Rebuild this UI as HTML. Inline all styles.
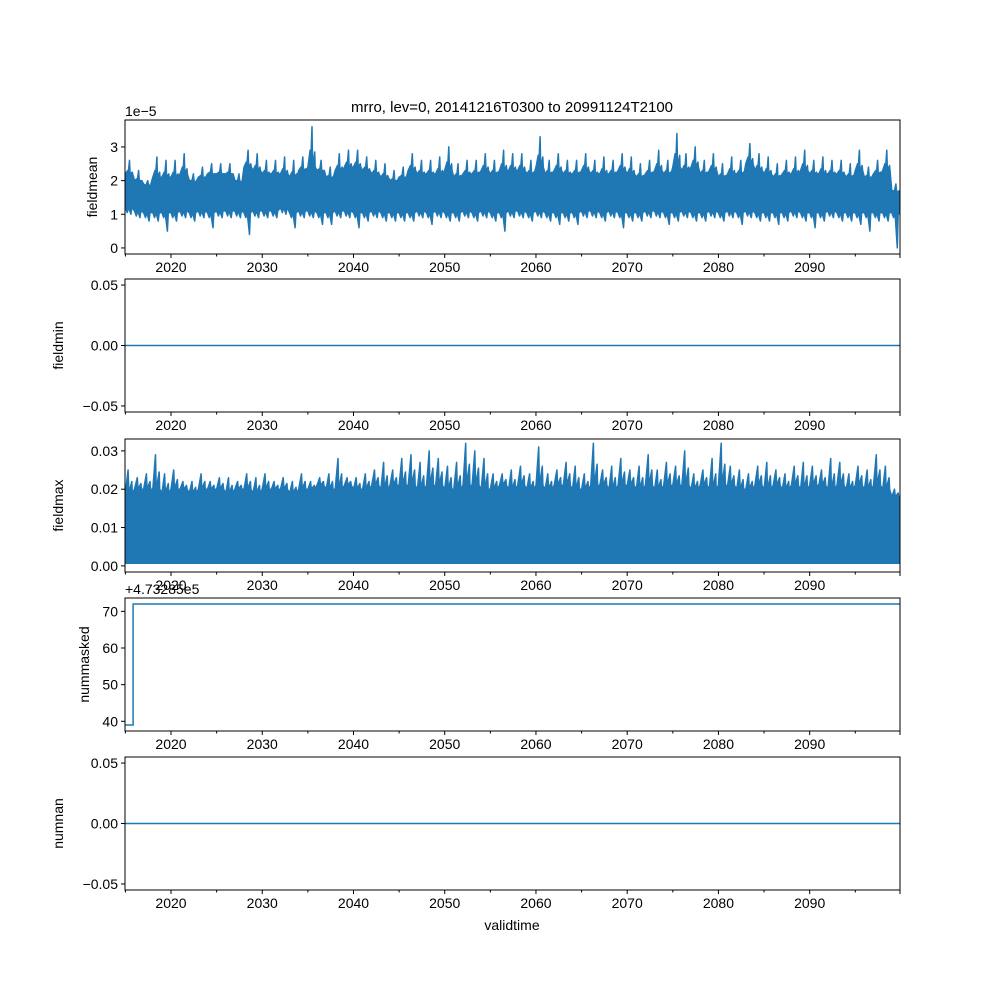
<!DOCTYPE html>
<html><head><meta charset="utf-8">
<style>
body{margin:0;background:#fff;}
svg text{font-family:"Liberation Sans","DejaVu Sans",sans-serif;fill:#000;}
</style></head>
<body>
<svg id="fig" width="1000" height="1000" viewBox="0 0 1000 1000" xmlns="http://www.w3.org/2000/svg">
<rect width="1000" height="1000" fill="#fff"/>
<text x="512" y="112" font-size="15" text-anchor="middle">mrro, lev=0, 20141216T0300 to 20991124T2100</text>
<text x="512" y="930" font-size="14" text-anchor="middle">validtime</text>
</svg>
<script>
const years = [];
for (let y = 2015; y <= 2099; y++) years.push(y);
// fieldmean (units 1e-5): yearly peak, yearly upper level, yearly low
const meanPeak = [2.6,2.3,2.0,2.7,2.6,2.6,2.8,2.2,2.4,2.5,2.5,2.5,2.2,2.9,2.8,2.6,2.6,2.7,2.6,2.7,3.6,2.6,2.4,2.8,2.9,2.9,2.7,2.6,2.5,2.3,2.4,2.8,2.6,2.6,2.7,3.0,2.5,2.6,2.6,2.8,2.6,2.9,2.8,2.8,2.6,3.3,2.6,2.8,2.6,2.6,2.8,2.6,2.7,2.6,2.8,2.7,2.5,2.6,2.9,2.6,3.4,2.8,3.0,2.6,2.8,2.5,2.7,2.6,3.1,2.8,2.7,2.5,2.6,2.7,2.9,2.6,2.7,2.6,2.6,2.5,2.9,2.4,2.6,2.9,1.9];
const meanUpper = [2.2,2.0,1.9,2.1,2.1,2.1,2.2,2.0,2.1,2.2,2.2,2.2,2.0,2.4,2.3,2.2,2.2,2.2,2.1,2.3,2.4,2.3,2.1,2.3,2.4,2.4,2.3,2.2,2.1,2.0,2.1,2.3,2.2,2.2,2.2,2.3,2.1,2.2,2.2,2.3,2.2,2.3,2.3,2.3,2.2,2.4,2.2,2.3,2.2,2.2,2.3,2.2,2.2,2.2,2.3,2.2,2.1,2.2,2.3,2.2,2.4,2.3,2.4,2.2,2.3,2.1,2.2,2.2,2.5,2.3,2.2,2.1,2.2,2.2,2.3,2.2,2.2,2.2,2.2,2.1,2.3,2.1,2.2,2.3,1.7];
const meanLow = [1.0,0.9,0.8,0.8,0.5,0.8,0.9,0.8,0.9,0.6,0.9,0.9,0.9,0.4,0.9,0.9,0.9,1.0,0.6,0.9,0.9,0.7,0.7,0.9,0.9,0.6,0.8,0.9,0.8,0.8,0.8,0.8,0.9,0.7,0.9,0.8,0.8,0.9,0.8,0.9,0.8,0.5,0.9,0.9,0.8,0.9,0.8,0.7,0.8,0.7,0.9,0.9,0.8,0.9,0.6,0.8,0.8,0.9,0.9,0.7,0.8,0.9,0.8,0.8,0.9,0.8,0.9,0.7,0.9,0.8,0.8,0.7,0.8,0.9,0.8,0.6,0.8,0.9,0.8,0.8,0.7,0.5,0.8,0.8,0.0];
// fieldmax
const maxPeak = [0.025,0.023,0.024,0.029,0.024,0.025,0.022,0.022,0.024,0.022,0.023,0.023,0.022,0.024,0.023,0.024,0.022,0.023,0.022,0.024,0.022,0.023,0.024,0.028,0.023,0.023,0.024,0.025,0.027,0.025,0.028,0.029,0.027,0.030,0.028,0.026,0.027,0.032,0.030,0.028,0.024,0.024,0.025,0.026,0.024,0.031,0.024,0.025,0.027,0.026,0.024,0.032,0.025,0.026,0.028,0.025,0.026,0.029,0.025,0.027,0.026,0.030,0.024,0.025,0.028,0.032,0.026,0.025,0.024,0.026,0.027,0.025,0.024,0.026,0.027,0.026,0.025,0.028,0.027,0.024,0.026,0.025,0.029,0.026,0.020];
const maxBase = [0.019,0.020,0.020,0.020,0.019,0.020,0.020,0.019,0.020,0.020,0.020,0.019,0.020,0.020,0.019,0.020,0.020,0.020,0.019,0.020,0.020,0.021,0.020,0.020,0.021,0.020,0.020,0.021,0.020,0.021,0.021,0.021,0.020,0.021,0.021,0.020,0.020,0.021,0.021,0.020,0.020,0.021,0.020,0.021,0.020,0.021,0.020,0.021,0.021,0.020,0.020,0.021,0.021,0.020,0.021,0.021,0.020,0.021,0.020,0.021,0.021,0.021,0.020,0.021,0.020,0.021,0.021,0.020,0.020,0.021,0.020,0.021,0.020,0.021,0.020,0.021,0.021,0.020,0.021,0.020,0.021,0.020,0.021,0.020,0.018];
const maxLow = 0.0007;
// nummasked (offset +4.73285e5)
const maskedTimes = [2014.957, 2015.85, 2015.85, 2099.9];
const maskedVals = [39, 39, 72, 72];

const NS = "http://www.w3.org/2000/svg";
const svg = document.getElementById('fig');
const X0 = 125, X1 = 900, T0 = 2014.957, T1 = 2099.9;
const xs = t => X0 + (t - T0) / (T1 - T0) * (X1 - X0);
const C = '#1f77b4';
function el(tag, attrs, parent) {
  const e = document.createElementNS(NS, tag);
  for (const k in attrs) e.setAttribute(k, attrs[k]);
  (parent || svg).appendChild(e);
  return e;
}
function txt(s, x, y, attrs, parent) {
  const e = el('text', Object.assign({x: x, y: y, 'font-size': 14}, attrs), parent);
  e.textContent = s; return e;
}
const panels = [
  {name:'fieldmean', top:120, bot:254, ymin:-0.18, ymax:3.8, ticks:[0,1,2,3], labels:['0','1','2','3']},
  {name:'fieldmin', top:279, bot:412, ymin:-0.055, ymax:0.055, ticks:[-0.05,0,0.05], labels:['−0.05','0.00','0.05']},
  {name:'fieldmax', top:439, bot:572, ymin:-0.0016, ymax:0.0331, ticks:[0,0.01,0.02,0.03], labels:['0.00','0.01','0.02','0.03']},
  {name:'nummasked', top:598, bot:731, ymin:37.35, ymax:73.65, ticks:[40,50,60,70], labels:['40','50','60','70']},
  {name:'numnan', top:757, bot:890, ymin:-0.055, ymax:0.055, ticks:[-0.05,0,0.05], labels:['−0.05','0.00','0.05']},
];
panels.forEach(p => {
  const g = el('g', {});
  
  
  p.ys = v => p.bot - (v - p.ymin) / (p.ymax - p.ymin) * (p.bot - p.top);
  p.g = g;
  const clip = el('clipPath', {id: 'c-' + p.name}, g);
  el('rect', {x: X0, y: p.top, width: X1 - X0, height: p.bot - p.top}, clip);
  p.plot = el('g', {'clip-path': 'url(#c-' + p.name + ')'}, g);
});
function pts(arr){return arr.map(q=>q[0].toFixed(1)+','+q[1].toFixed(1)).join(' ');}
// panel 1: fieldmean
(function(){
  const p = panels[0];
  const up = [], lo = [];
  years.forEach((y, i) => {
    const t = Math.max(T0, y);
    const base = Math.max(meanLow[i], 0.85) + 0.2;
    up.push([xs(t), p.ys(meanUpper[i])]);
    up.push([xs(y + 0.25), p.ys((meanUpper[i] + meanPeak[i]) / 2 - 0.1)]);
    up.push([xs(y + 0.3), p.ys(meanUpper[i])]);
    up.push([xs(y + 0.45), p.ys(meanPeak[i])]);
    up.push([xs(y + 0.52), p.ys(meanUpper[i])]);
    up.push([xs(y + 0.75), p.ys((meanUpper[i] + meanPeak[i]) / 2 - 0.15)]);
    up.push([xs(y + 0.8), p.ys(meanUpper[i])]);
    lo.push([xs(t), p.ys(base)]);
    lo.push([xs(y + 0.2), p.ys(base - 0.15)]);
    lo.push([xs(y + 0.35), p.ys(base)]);
    lo.push([xs(y + 0.6), p.ys(meanLow[i])]);
    lo.push([xs(y + 0.7), p.ys(base)]);
  });
  up.push([X1, p.ys(meanUpper[meanUpper.length-1])]);
  lo.push([X1, p.ys(1.0)]);
  const poly = el('polygon', {points: pts(up.concat(lo.reverse())), fill: C, stroke: C, 'stroke-width': 1.5, 'stroke-linejoin': 'round'}, p.plot);
  
  
})();
// panel 3: fieldmax
(function(){
  const p = panels[2];
  const up = [];
  years.forEach((y, i) => {
    const t = Math.max(T0, y);
    up.push([xs(t), p.ys(maxBase[i])]);
    up.push([xs(y + 0.3), p.ys(maxPeak[i])]);
    up.push([xs(y + 0.38), p.ys(maxBase[i])]);
    up.push([xs(y + 0.7), p.ys((maxPeak[i] + maxBase[i]) / 2)]);
    up.push([xs(y + 0.76), p.ys(maxBase[i])]);
  });
  up.push([X1, p.ys(maxBase[maxBase.length-1])]);
  const lo = [[X1, p.ys(maxLow)], [X0, p.ys(maxLow)]];
  const poly = el('polygon', {points: pts(up.concat(lo)), fill: C, stroke: C, 'stroke-width': 1.5, 'stroke-linejoin': 'round'}, p.plot);
  
  
})();
// panel 2 & 5 zero lines
[1, 4].forEach(k => {
  const p = panels[k];
  const l = el('line', {x1: X0, x2: X1, y1: p.ys(0), y2: p.ys(0), stroke: C, 'stroke-width': 1.5}, p.plot);
  
  
});
// panel 4 step
(function(){
  const p = panels[3];
  const l = el('polyline', {points: pts(maskedTimes.map((t, i) => [xs(t), p.ys(maskedVals[i])])), fill: 'none', stroke: C, 'stroke-width': 1.5}, p.plot);
  
  
})();
// axes
panels.forEach(p => {
  const g = p.g;
  const fr = el('rect', {x: X0, y: p.top, width: X1 - X0, height: p.bot - p.top, fill: 'none', stroke: '#000', 'stroke-width': 1}, g);
  
  
  p.ticks.forEach((v, i) => {
    const y = p.ys(v);
    el('line', {x1: X0 - 4, x2: X0, y1: y, y2: y, stroke: '#000'}, g);
    const t = txt(p.labels[i], X0 - 7, y + 5, {'text-anchor': 'end'}, g);
    
    
  });
  for (let yr = 2015; yr <= 2099; yr += 5) {
    const x = xs(yr), major = yr % 10 === 0;
    el('line', {x1: x, x2: x, y1: p.bot, y2: p.bot + (major ? 4 : 2.5), stroke: '#000'}, g);
    if (major) {
      const t = txt(String(yr), x, p.bot + 18, {'text-anchor': 'middle'}, g);
      
      
    }
  }
  el('line', {x1: X1, x2: X1, y1: p.bot, y2: p.bot + 4, stroke: '#000'}, g);
  const lx = p.name === 'fieldmean' ? 97 : (p.name === 'nummasked' ? 89 : 63);
  const yl = txt(p.name, lx, (p.top + p.bot) / 2, {'text-anchor': 'middle', transform: 'rotate(-90 ' + lx + ' ' + (p.top + p.bot) / 2 + ')'}, g);
  
  
});
const o1 = txt('1e\u22125', 125, 116, {}, svg);


const o2 = txt('+4.73285e5', 125, 594, {}, svg);


</script>
</body></html>
